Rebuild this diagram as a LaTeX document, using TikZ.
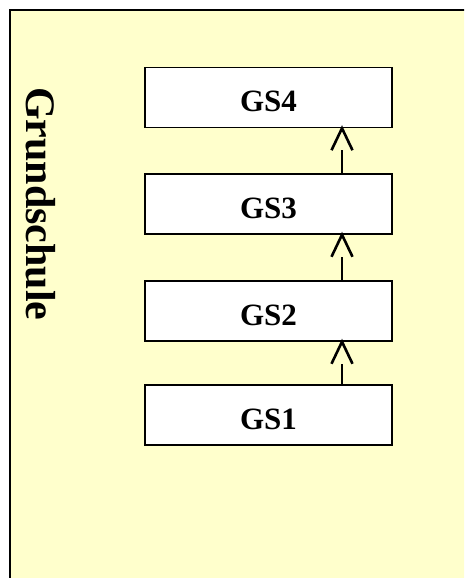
\documentclass[tikz,border=0pt]{standalone}
\usepackage{fontspec}
\setmainfont{Liberation Serif}
\definecolor{paleyellow}{HTML}{FFFFCC}
\tikzset{
  gsbox/.style={draw=black, line width=1.5pt, fill=white, minimum width=247pt,
    minimum height=60pt, inner sep=0pt, text height=28pt, text depth=0pt,
    font=\bfseries\fontsize{31}{31}\selectfont},
  shaft/.style={draw=black, line width=1.6pt},
  vhead/.style={draw=black, line width=2.6pt, line join=miter},
  sidelabel/.style={rotate=-90, anchor=base west, inner sep=0pt,
    font=\bfseries\fontsize{42}{42}\selectfont}
}
\begin{document}
\begin{tikzpicture}[x=1pt,y=-1pt]
\useasboundingbox (0,0) rectangle (464,578);
\clip (0,0) rectangle (464,578);
\fill[white] (0,0) rectangle (464,578);
\draw[line width=2pt, fill=paleyellow] (9.5,10.5) rectangle (490,600);
\node[sidelabel] (lab) at (26.5,87) {Grundschule};
\node[gsbox] (gs4) at (268.5,97.5) {GS4};
\node[gsbox] (gs3) at (268.5,204) {GS3};
\node[gsbox] (gs2) at (268.5,311) {GS2};
\node[gsbox] (gs1) at (268.5,415) {GS1};
\foreach \lo/\hi in {gs1/gs2, gs2/gs3, gs3/gs4}{
  \coordinate (t-\hi) at ([xshift=73.5pt]\hi.south);
  \draw[shaft] ([xshift=73.5pt]\lo.north) -- ([yshift=-22pt]t-\hi);
  \draw[vhead] ([xshift=-10.5pt,yshift=-22pt]t-\hi) -- (t-\hi) -- ([xshift=10.5pt,yshift=-22pt]t-\hi);
}
\end{tikzpicture}
\end{document}
